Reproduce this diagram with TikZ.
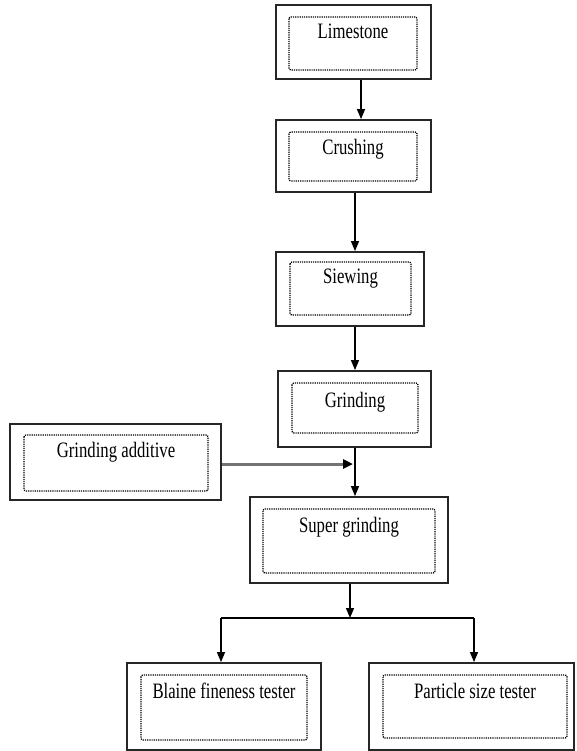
\documentclass[tikz,border=0pt]{standalone}
\usepackage{fontspec}
\setmainfont{Liberation Serif}[FakeStretch=0.76]
\usetikzlibrary{arrows.meta}
\begin{document}
\begin{tikzpicture}[x=1pt,y=-1pt,
  outerbox/.style={draw=black!85,line width=1.8pt,inner sep=0pt,fill=white},
  innerbox/.style={draw=black,line width=1.3pt,dash pattern=on 1.2pt off 1pt,rounded corners=2pt},
  lbl/.style={anchor=base,inner sep=0pt,font=\fontsize{22}{26}\selectfont},
  arr/.style={draw=black,line width=1.3pt,-{Triangle[length=10pt,width=8pt]}},
  plain/.style={draw=black,line width=1.3pt},
  grayarr/.style={draw=black!55,line width=3pt,-{Triangle[length=10pt,width=9pt,fill=black,color=black]}}]
\useasboundingbox (0,0) rectangle (576,751);

% outer boxes
\node[outerbox,minimum width=155pt,minimum height=74pt] (lime) at (353.5,42) {};
\node[outerbox,minimum width=155pt,minimum height=72pt] (crush) at (353.5,156) {};
\node[outerbox,minimum width=148pt,minimum height=74pt] (siew) at (350,289) {};
\node[outerbox,minimum width=153pt,minimum height=76pt] (grind) at (354.5,409) {};
\node[outerbox,minimum width=211pt,minimum height=76pt] (add) at (115.5,462) {};
\node[outerbox,minimum width=198pt,minimum height=86pt] (super) at (349,540) {};
\node[outerbox,minimum width=194pt,minimum height=87pt] (blaine) at (224,706.5) {};
\node[outerbox,minimum width=205pt,minimum height=87pt] (part) at (471.5,706.5) {};

% inner dotted boxes
\draw[innerbox] (289,17) rectangle (417,70);
\draw[innerbox] (289,132) rectangle (417,181);
\draw[innerbox] (290,262) rectangle (411,315);
\draw[innerbox] (292,383) rectangle (418,433);
\draw[innerbox] (24,435) rectangle (208,491);
\draw[innerbox] (263,509) rectangle (435,573);
\draw[innerbox] (141,675) rectangle (307,740);
\draw[innerbox] (383,675) rectangle (567,738);

% labels
\node[lbl] (tlime) at (353,39) {Limestone};
\node[lbl] (tcrush) at (353,155) {Crushing};
\node[lbl] (tsiew) at (350.5,283) {Siewing};
\node[lbl] (tgrind) at (355,407) {Grinding};
\node[lbl] (tadd) at (116,457) {Grinding additive};
\node[lbl] (tsuper) at (349,532) {Super grinding};
\node[lbl] (tblaine) at (224,698) {Blaine fineness tester};
\node[lbl] (tpart) at (475,698) {Particle size tester};

% coordinates for connectors
\coordinate (x1) at (361,0);
\coordinate (x2) at (355,0);
\coordinate (x3) at (350,0);
\coordinate (ga) at (353,464);
\coordinate (split) at (350,618);
\coordinate (sl) at (221,618);
\coordinate (sr) at (474,618);

% connectors
\draw[arr] (lime.south -| x1) -- (crush.north -| x1);
\draw[arr] (crush.south -| x2) -- (siew.north -| x2);
\draw[arr] (siew.south -| x2) -- (grind.north -| x2);
\draw[arr] (grind.south -| x2) -- (super.north -| x2);
\draw[grayarr] (add.east |- ga) -- (ga);
\draw[arr] (super.south -| x3) -- (split);
\draw[plain] (sl) -- (sr);
\draw[arr] (sl) -- (blaine.north -| sl);
\draw[arr] (sr) -- (part.north -| sr);
\end{tikzpicture}
\end{document}
